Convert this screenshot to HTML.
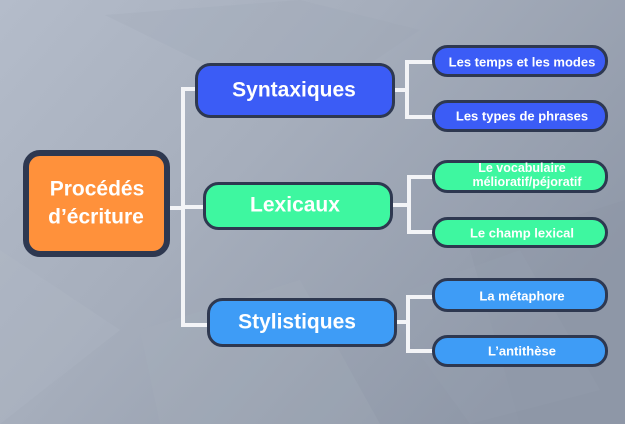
<!DOCTYPE html>
<html>
<head>
<meta charset="utf-8">
<style>
  html,body{margin:0;padding:0;width:625px;height:424px;overflow:hidden;background:#a3abb9;}
  svg{display:block;}
  text{font-family:"Liberation Sans",Arial,sans-serif;font-weight:bold;fill:#ffffff;text-anchor:middle;dominant-baseline:central;}
</style>
</head>
<body>
<svg width="625" height="424" viewBox="0 0 625 424" xmlns="http://www.w3.org/2000/svg">
  <defs>
    <linearGradient id="bg" x1="0" y1="0" x2="1" y2="0.6">
      <stop offset="0" stop-color="#b4bcca"/>
      <stop offset="0.45" stop-color="#a6aebc"/>
      <stop offset="1" stop-color="#8f98a8"/>
    </linearGradient>
  </defs>
  <rect x="0" y="0" width="625" height="424" fill="url(#bg)"/>
  <!-- subtle background facets -->
  <polygon points="105,15 300,0 420,30 300,110" fill="#9aa3b2" opacity="0.2"/>
  <polygon points="0,250 120,330 0,424" fill="#b2bac8" opacity="0.25"/>
  <polygon points="470,250 625,200 625,424 520,424" fill="#8c95a5" opacity="0.25"/>
  <polygon points="380,300 520,250 600,390 470,424" fill="#9ba4b3" opacity="0.2"/>
  <polygon points="140,330 300,280 380,424 160,424" fill="#aab2c0" opacity="0.2"/>

  <!-- connectors -->
  <g stroke="#f3f4f7" stroke-width="4" fill="none" stroke-linecap="butt">
    <line x1="168" y1="208" x2="185" y2="208"/>
    <polyline points="197,89 183,89 183,325 209,325"/>
    <line x1="183" y1="207" x2="205" y2="207"/>

    <line x1="393" y1="90" x2="407" y2="90"/>
    <polyline points="434,62 407,62 407,117 434,117"/>

    <line x1="391" y1="205" x2="409" y2="205"/>
    <polyline points="434,177 409,177 409,232 434,232"/>

    <line x1="395" y1="322" x2="408" y2="322"/>
    <polyline points="434,297 408,297 408,351 434,351"/>
  </g>

  <!-- main box -->
  <rect x="26" y="153" width="141" height="101" rx="14" fill="#ff913b" stroke="#2e3850" stroke-width="6"/>
  <text x="97" y="189" font-size="21">Procédés</text>
  <text x="96" y="217" font-size="21">d’écriture</text>

  <!-- level 1 -->
  <rect x="196.5" y="64.5" width="197" height="52" rx="14" fill="#3b5cf6" stroke="#2e3850" stroke-width="3"/>
  <text x="294" y="90" font-size="21">Syntaxiques</text>

  <rect x="204.5" y="183.5" width="187" height="45" rx="14" fill="#3ef7a0" stroke="#2e3850" stroke-width="3"/>
  <text x="295" y="205" font-size="21">Lexicaux</text>

  <rect x="208.5" y="299.5" width="187" height="46" rx="14" fill="#3e9cf6" stroke="#2e3850" stroke-width="3"/>
  <text x="297" y="322" font-size="21">Stylistiques</text>

  <!-- level 2 -->
  <rect x="433.5" y="46.5" width="173" height="29" rx="14" fill="#3b5cf6" stroke="#2e3850" stroke-width="3"/>
  <text x="522" y="62" font-size="13">Les temps et les modes</text>

  <rect x="433.5" y="101.5" width="173" height="29" rx="14" fill="#3b5cf6" stroke="#2e3850" stroke-width="3"/>
  <text x="522" y="116" font-size="13">Les types de phrases</text>

  <rect x="433.5" y="161.5" width="173" height="30" rx="14" fill="#3ef7a0" stroke="#2e3850" stroke-width="3"/>
  <text x="522" y="168" font-size="12.5">Le vocabulaire</text>
  <text x="527" y="182" font-size="12.5">mélioratif/péjoratif</text>

  <rect x="433.5" y="218.5" width="173" height="28" rx="14" fill="#3ef7a0" stroke="#2e3850" stroke-width="3"/>
  <text x="522" y="233" font-size="13">Le champ lexical</text>

  <rect x="433.5" y="279.5" width="173" height="31" rx="14" fill="#3e9cf6" stroke="#2e3850" stroke-width="3"/>
  <text x="522" y="296" font-size="13">La métaphore</text>

  <rect x="433.5" y="336.5" width="173" height="29" rx="14" fill="#3e9cf6" stroke="#2e3850" stroke-width="3"/>
  <text x="522" y="351" font-size="13">L’antithèse</text>
</svg>
</body>
</html>
